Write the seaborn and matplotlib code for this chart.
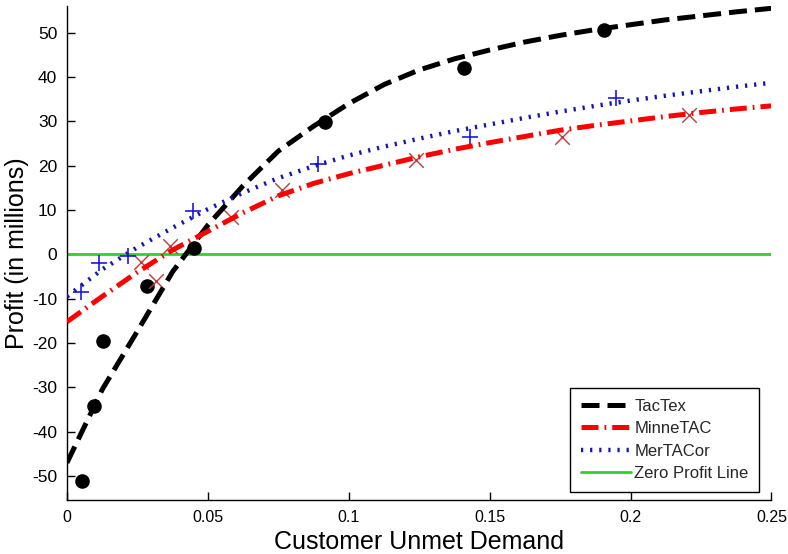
import matplotlib
matplotlib.use("Agg")
import matplotlib.pyplot as plt
import seaborn as sns
import pandas as pd

# Observed profits (in millions) against customer unmet demand
tactex_x = [0.0055, 0.0097, 0.0128, 0.0284, 0.0452, 0.0917, 0.1408, 0.1906]
tactex_y = [-51.1, -34.2, -19.5, -7.2, 1.35, 29.9, 42.0, 50.6]

minnetac_x = [0.0264, 0.0317, 0.0364, 0.0582, 0.0764, 0.1240, 0.1758, 0.2206]
minnetac_y = [-1.7, -5.9, 1.9, 8.5, 14.5, 21.3, 26.5, 31.4]

mertacor_x = [0.0048, 0.0114, 0.0217, 0.0448, 0.0891, 0.1431, 0.1947]
mertacor_y = [-8.4, -1.9, -0.4, 9.8, 20.3, 26.5, 35.2]

# Fitted trend curves sampled along the demand axis
fit_x = [0.0, 0.0125, 0.025, 0.0375, 0.05, 0.0625, 0.075, 0.0875, 0.1, 0.1125,
         0.125, 0.1375, 0.15, 0.1625, 0.175, 0.1875, 0.2, 0.2125, 0.225, 0.2375, 0.25]
tactex_fit = [-47.0, -30.5, -17.3, -3.9, 6.6, 15.5, 23.3, 28.9, 34.0, 38.3,
              41.6, 44.1, 46.1, 47.9, 49.4, 50.7, 51.8, 52.9, 53.8, 54.7, 55.5]
minnetac_fit = [-15.2, -9.5, -4.0, 1.0, 5.2, 9.4, 13.2, 16.0, 18.2, 20.1,
                22.0, 23.7, 25.2, 26.6, 28.0, 29.1, 30.1, 31.1, 32.0, 32.8, 33.5]
mertacor_fit = [-9.5, -3.4, 1.6, 6.0, 10.2, 13.9, 17.2, 19.9, 22.3, 24.3,
                26.1, 27.8, 29.3, 30.8, 32.2, 33.5, 34.7, 35.8, 36.8, 37.8, 38.7]

x_ticks = [0, 0.05, 0.1, 0.15, 0.2, 0.25]
x_tick_labels = ["0", "0.05", "0.1", "0.15", "0.2", "0.25"]
y_ticks = [-50, -40, -30, -20, -10, 0, 10, 20, 30, 40, 50]

fits = pd.DataFrame({"demand": fit_x, "TacTex": tactex_fit,
                     "MinneTAC": minnetac_fit, "MerTACor": mertacor_fit})

sns.set_theme(style="ticks")
plt.rcParams["font.family"] = ["Liberation Sans", "DejaVu Sans"]
plt.rcParams["axes.unicode_minus"] = False

fig = plt.figure(figsize=(7.88, 5.54), dpi=100)
ax = fig.add_axes([0.085, 0.0975, 0.894, 0.8915])

# zero profit reference
zero = ax.axhline(0, color="#2fd02f", lw=2.0, zorder=1, label="Zero Profit Line")

# observed points
sns.scatterplot(x=tactex_x, y=tactex_y, ax=ax, marker="o", s=110,
                color="black", edgecolor="black", linewidth=0, zorder=3)
sns.scatterplot(x=minnetac_x, y=minnetac_y, ax=ax, marker="x", s=110,
                color="#c03a3a", linewidth=1.0, zorder=3)
sns.scatterplot(x=mertacor_x, y=mertacor_y, ax=ax, marker="+", s=140,
                color="#1a1ae0", linewidth=1.2, zorder=3)

# trend curves
sns.lineplot(data=fits, x="demand", y="TacTex", ax=ax, color="black", lw=3.6,
             linestyle=(0, (3.6, 1.6)), dash_capstyle="butt", sort=False,
             label="TacTex", zorder=4)
l_tac = ax.lines[-1]
sns.lineplot(data=fits, x="demand", y="MinneTAC", ax=ax, color="#ff0000", lw=3.6,
             linestyle=(0, (3.4, 1.2, 0.35, 1.2)), dash_capstyle="butt", sort=False,
             label="MinneTAC", zorder=4)
l_min = ax.lines[-1]
sns.lineplot(data=fits, x="demand", y="MerTACor", ax=ax, color="#1414b4", lw=3.2,
             linestyle=(0, (0.5, 1.55)), dash_capstyle="butt", sort=False,
             label="MerTACor", zorder=4)
l_mer = ax.lines[-1]

ax.set_xlim(0, 0.25)
ax.set_ylim(-55.4, 56.0)
ax.set_xticks(x_ticks)
ax.set_xticklabels(x_tick_labels)
ax.set_yticks(y_ticks)
ax.tick_params(direction="in", length=6, width=1, colors="black", pad=7)
ax.tick_params(axis="x", labelsize=11.5)
ax.tick_params(axis="y", labelsize=12.5)
for side in ["top", "right"]:
    ax.spines[side].set_visible(False)
for side in ["left", "bottom"]:
    ax.spines[side].set_color("black")
    ax.spines[side].set_linewidth(1.0)

ax.set_xlabel("Customer Unmet Demand", fontsize=18, color="black", labelpad=4)
ax.set_ylabel("Profit (in millions)", fontsize=18, color="black", labelpad=2)

leg = ax.legend(handles=[l_tac, l_min, l_mer, zero],
                labels=["TacTex", "MinneTAC", "MerTACor", "Zero Profit Line"],
                loc="lower right", bbox_to_anchor=(0.983, 0.016),
                fontsize=12, frameon=True, fancybox=False, framealpha=1,
                edgecolor="black", handlelength=3.0, handletextpad=0.2,
                borderpad=0.65, labelspacing=0.45, borderaxespad=0)
leg.get_frame().set_linewidth(1.0)

fig.savefig("out.png", dpi=100)
